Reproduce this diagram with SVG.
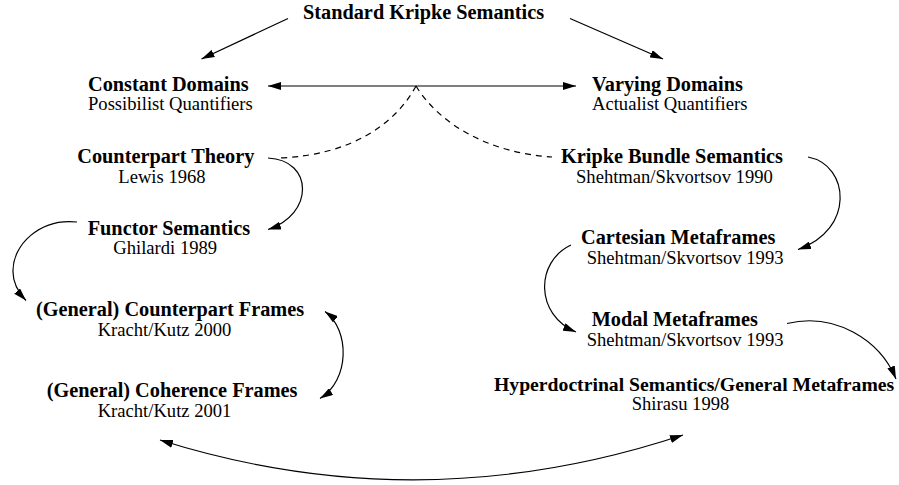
<svg xmlns="http://www.w3.org/2000/svg" width="899" height="485" viewBox="0 0 899 485">
<style>
.b{font-family:"Liberation Serif","Times New Roman",serif;font-weight:bold;font-size:20.3px;fill:#000}
.r{font-family:"Liberation Serif","Times New Roman",serif;font-size:18.6px;fill:#000}
.c{fill:none;stroke:#000;stroke-width:1.2}
.d{stroke-dasharray:6,5}
.e{marker-end:url(#ah)}
.s{marker-start:url(#ah)}
</style>
<defs>
<marker id="ah" viewBox="0 0 13 8" refX="13" refY="4" markerWidth="13" markerHeight="8" markerUnits="userSpaceOnUse" orient="auto-start-reverse">
<path d="M0,0 L13,4 L0,8 z" fill="#000"/>
</marker>
</defs>
<rect width="899" height="485" fill="#fff"/>
<g id="connectors">
<path class="c e" d="M288,18.5 L201.5,59"/>
<path class="c e" d="M570,18.5 L663,59"/>
<path class="c s e" d="M268,86 L576,86"/>
<path class="c d" d="M416,86 C395,125 350,155 280,158"/>
<path class="c d" d="M416,86 C440,125 490,153 552,157"/>
<path class="c e" d="M268,158 C314,160 314,215 268,229.5"/>
<path class="c e" d="M77,222 C40,218 12,245 13,272 C13,283 18,292 26,300.5"/>
<path class="c s e" d="M325,311.5 C350,330 350,380 320,398.5"/>
<path class="c s e" d="M160,440 Q420,522 683,435"/>
<path class="c e" d="M808,157 C850,165 855,230 798,249.5"/>
<path class="c e" d="M571,245 C535,262 535,315 576,332"/>
<path class="c e" d="M787,323.5 C835,312 880,340 896,379"/>
</g>
<g id="standard"><text class="b" x="303" y="18.5">Standard Kripke Semantics</text></g>
<g id="constant"><text class="b" x="88" y="90.5">Constant Domains</text><text class="r" x="88" y="109.5">Possibilist Quantifiers</text></g>
<g id="varying"><text class="b" x="592" y="90.5">Varying Domains</text><text class="r" x="592" y="109.5">Actualist Quantifiers</text></g>
<g id="counterpart"><text class="b" x="77.3" y="163.3">Counterpart Theory</text><text class="r" x="118.3" y="182.7">Lewis 1968</text></g>
<g id="functor"><text class="b" x="87.7" y="235">Functor Semantics</text><text class="r" x="113.3" y="254.3">Ghilardi 1989</text></g>
<g id="gcf"><text class="b" x="36" y="316">(General) Counterpart Frames</text><text class="r" x="97.7" y="335.5">Kracht/Kutz 2000</text></g>
<g id="coherence"><text class="b" x="46.7" y="397">(General) Coherence Frames</text><text class="r" x="97.7" y="417">Kracht/Kutz 2001</text></g>
<g id="bundle"><text class="b" x="561" y="162.7">Kripke Bundle Semantics</text><text class="r" x="576" y="182.7">Shehtman/Skvortsov 1990</text></g>
<g id="cartesian"><text class="b" x="581" y="244.3">Cartesian Metaframes</text><text class="r" x="586.7" y="264">Shehtman/Skvortsov 1993</text></g>
<g id="modal"><text class="b" x="591.7" y="326">Modal Metaframes</text><text class="r" x="586.7" y="346">Shehtman/Skvortsov 1993</text></g>
<g id="hyper"><text class="b" x="494" y="391" style="font-size:19.7px">Hyperdoctrinal Semantics/General Metaframes</text><text class="r" x="631.7" y="410">Shirasu 1998</text></g>
</svg>
